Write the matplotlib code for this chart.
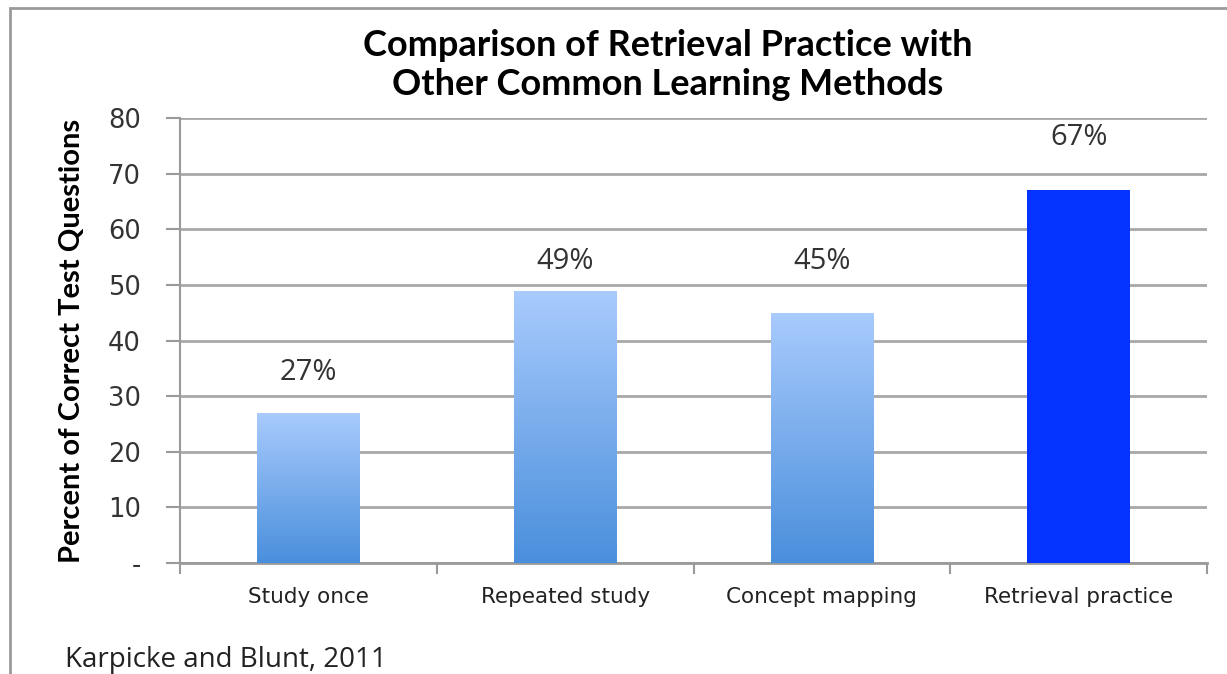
import numpy as np
import matplotlib.pyplot as plt
from matplotlib.patches import Rectangle
from matplotlib.colors import LinearSegmentedColormap

# dados
methods = ['Study once', 'Repeated study', 'Concept mapping', 'Retrieval practice']
percent = [27, 49, 45, 67]
value_labels = ['27%', '49%', '45%', '67%']
yticks = [0, 10, 20, 30, 40, 50, 60, 70, 80]
ytick_labels = ['-', '10', '20', '30', '40', '50', '60', '70', '80']

fig = plt.figure(figsize=(12.27, 6.74), dpi=100)
ax = fig.add_axes([0.1467, 0.1647, 0.837, 0.660])

# moldura cinza da figura
fig.patches.append(Rectangle((10 / 1227, -0.1), 1.2, 1 - 8 / 674 + 0.1,
                             transform=fig.transFigure, fill=False,
                             edgecolor='#9a9a9a', linewidth=2.0))

x = np.arange(len(methods))
width = 0.4
bars = ax.bar(x, percent, width=width, color='none', edgecolor='none', zorder=3)

# gradiente nas três primeiras barras
cmap = LinearSegmentedColormap.from_list('grad', ['#4a8fdc', '#a9cbfd'])
grad = np.linspace(0, 1, 256).reshape(-1, 1)
for i, b in enumerate(bars):
    if i == 3:
        b.set_facecolor('#0433ff')
        continue
    x0, y0 = b.get_x(), b.get_y()
    im = ax.imshow(grad, cmap=cmap, origin='lower', aspect='auto',
                   extent=[x0, x0 + b.get_width(), y0, y0 + b.get_height()],
                   zorder=3)
    im.set_clip_path(b)

# rótulos de valor (alturas)
label_y = [34.2, 54.2, 54.2, 76.6]
for xi, ly, txt in zip(x, label_y, value_labels):
    ax.text(xi, ly, txt, ha='center', va='center', fontsize=21,
            family='Open Sans', color='#333333')

ax.set_xlim(-0.5, len(methods) - 0.5)
ax.set_ylim(0, 80)
ax.set_yticks(yticks)
ax.set_yticklabels(ytick_labels, fontsize=18.5, family='DejaVu Sans', color='#333333')
ax.set_xticks(x)
ax.set_xticklabels(methods, fontsize=15.5, family='DejaVu Sans', color='#222222')
ax.set_xticks(np.arange(-0.5, len(methods), 1), minor=True)
ax.tick_params(axis='x', which='major', length=0, pad=17)
ax.tick_params(axis='x', which='minor', length=8, width=1.5, color='#9a9a9a')
ax.tick_params(axis='y', length=10, width=1.5, color='#9a9a9a', pad=18)

ax.grid(axis='y', color='#a8a8a8', linewidth=2, zorder=0)
for s in ['top', 'right']:
    ax.spines[s].set_visible(False)
ax.spines['left'].set_color('#9a9a9a')
ax.spines['left'].set_linewidth(1.5)
ax.spines['bottom'].set_color('#9a9a9a')
ax.spines['bottom'].set_linewidth(2)

ax.set_ylabel('Percent of Correct Test Questions', fontsize=21, fontweight='bold',
              family='Lato', va='center')
ax.yaxis.set_label_coords(-0.105, 0.5)

fig.text(0.5445, 0.9036, 'Comparison of Retrieval Practice with\nOther Common Learning Methods',
         ha='center', va='center', fontsize=26, fontweight='bold', family='Lato',
         linespacing=1.25)
fig.text(65 / 1227, 1 - 660 / 674, 'Karpicke and Blunt, 2011', ha='left', va='center',
         fontsize=20, family='Open Sans', color='#222222')

plt.savefig('out.png', dpi=100)
